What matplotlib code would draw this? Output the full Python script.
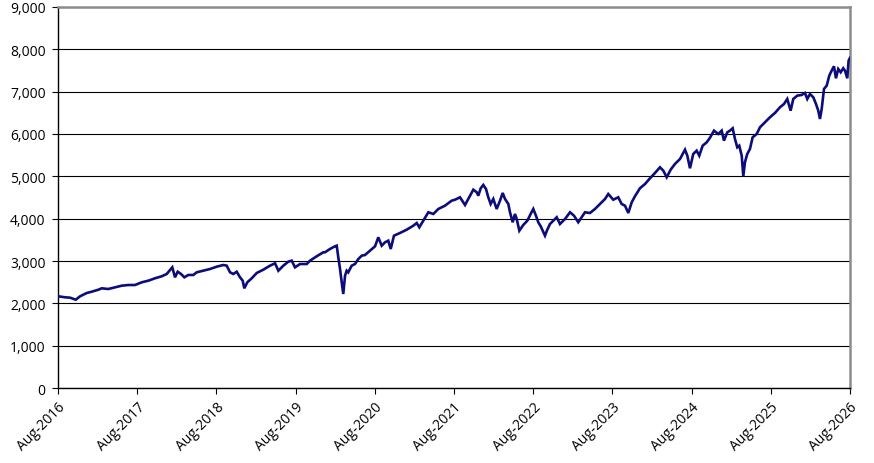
import matplotlib
matplotlib.use("Agg")
import matplotlib.pyplot as plt
from matplotlib.ticker import FuncFormatter

# decimal years (Aug-2016 = 2016.583) and index levels
years = [
    2016.587, 2016.671, 2016.735, 2016.806, 2016.861, 2016.945, 2017.009, 2017.092,
    2017.135, 2017.218, 2017.303, 2017.387, 2017.471, 2017.555, 2017.640, 2017.723,
    2017.808, 2017.892, 2017.955, 2018.026, 2018.060, 2018.094, 2018.136, 2018.178,
    2018.228, 2018.291, 2018.334, 2018.418, 2018.502, 2018.587, 2018.670, 2018.713,
    2018.755, 2018.796, 2018.839, 2018.881, 2018.915, 2018.935, 2018.973, 2019.029,
    2019.092, 2019.175, 2019.260, 2019.323, 2019.365, 2019.428, 2019.491, 2019.534,
    2019.575, 2019.639, 2019.723, 2019.765, 2019.849, 2019.933, 2019.954, 2020.017,
    2020.080, 2020.102, 2020.122, 2020.144, 2020.165, 2020.185, 2020.207, 2020.228,
    2020.248, 2020.291, 2020.333, 2020.375, 2020.418, 2020.459, 2020.522, 2020.586,
    2020.627, 2020.670, 2020.712, 2020.753, 2020.784, 2020.825, 2020.901, 2020.986,
    2021.069, 2021.112, 2021.145, 2021.195, 2021.259, 2021.322, 2021.385, 2021.469,
    2021.554, 2021.596, 2021.659, 2021.722, 2021.785, 2021.827, 2021.870, 2021.890,
    2021.920, 2021.953, 2021.987, 2022.016, 2022.046, 2022.079, 2022.122, 2022.164,
    2022.198, 2022.227, 2022.269, 2022.290, 2022.324, 2022.353, 2022.375, 2022.408,
    2022.458, 2022.509, 2022.551, 2022.584, 2022.618, 2022.647, 2022.678, 2022.732,
    2022.761, 2022.795, 2022.837, 2022.880, 2022.921, 2022.985, 2023.048, 2023.098,
    2023.152, 2023.208, 2023.237, 2023.300, 2023.363, 2023.426, 2023.490, 2023.531,
    2023.594, 2023.657, 2023.700, 2023.742, 2023.784, 2023.827, 2023.868, 2023.931,
    2023.995, 2024.058, 2024.121, 2024.184, 2024.226, 2024.269, 2024.319, 2024.373,
    2024.437, 2024.500, 2024.529, 2024.563, 2024.604, 2024.647, 2024.680, 2024.723,
    2024.774, 2024.815, 2024.866, 2024.920, 2024.963, 2024.992, 2025.034, 2025.068,
    2025.102, 2025.131, 2025.160, 2025.185, 2025.216, 2025.236, 2025.257, 2025.286,
    2025.320, 2025.354, 2025.405, 2025.447, 2025.510, 2025.573, 2025.636, 2025.699,
    2025.750, 2025.791, 2025.834, 2025.867, 2025.918, 2025.973, 2026.015, 2026.044,
    2026.078, 2026.120, 2026.154, 2026.183, 2026.204, 2026.226, 2026.255, 2026.289,
    2026.322, 2026.352, 2026.381, 2026.406, 2026.435, 2026.466, 2026.498, 2026.520,
    2026.549, 2026.566, 2026.583,
]
levels = [
    2166, 2143, 2134, 2086, 2166, 2244, 2275, 2322,
    2355, 2339, 2379, 2417, 2433, 2433, 2497, 2535,
    2592, 2639, 2693, 2851, 2615, 2747, 2693, 2615,
    2670, 2670, 2733, 2771, 2811, 2866, 2906, 2890,
    2733, 2693, 2747, 2615, 2535, 2355, 2497, 2592,
    2717, 2795, 2890, 2946, 2771, 2890, 2984, 3008,
    2851, 2929, 2929, 3008, 3111, 3206, 3206, 3284,
    3347, 3362, 3087, 2811, 2497, 2221, 2653, 2771,
    2733, 2890, 2929, 3047, 3126, 3142, 3244, 3347,
    3560, 3362, 3442, 3480, 3284, 3598, 3662, 3740,
    3834, 3898, 3796, 3952, 4151, 4111, 4229, 4307,
    4425, 4448, 4505, 4323, 4543, 4685, 4623, 4543,
    4718, 4796, 4701, 4505, 4347, 4465, 4229, 4425,
    4607, 4465, 4347, 4151, 3915, 4111, 3993, 3716,
    3851, 3952, 4111, 4229, 4071, 3915, 3820, 3598,
    3740, 3874, 3952, 4033, 3874, 3993, 4151, 4071,
    3915, 4071, 4151, 4134, 4229, 4347, 4465, 4583,
    4448, 4505, 4347, 4307, 4134, 4387, 4529, 4718,
    4819, 4954, 5079, 5214, 5134, 4978, 5158, 5292,
    5410, 5630, 5488, 5190, 5528, 5606, 5488, 5724,
    5804, 5910, 6079, 6000, 6079, 5843, 6040, 6079,
    6135, 5882, 5686, 5724, 5488, 5001, 5332, 5528,
    5646, 5922, 6000, 6159, 6277, 6395, 6497, 6631,
    6709, 6827, 6551, 6827, 6906, 6922, 6969, 6827,
    6945, 6867, 6709, 6551, 6355, 6591, 7064, 7142,
    7379, 7497, 7600, 7316, 7536, 7458, 7552, 7497,
    7316, 7734, 7796,
]

tick_years = [2016.583 + k for k in range(11)]
tick_labels = [f"Aug-{2016 + k}" for k in range(11)]
y_ticks = list(range(0, 9001, 1000))

plt.rcParams["font.family"] = ["Open Sans", "DejaVu Sans"]

fig = plt.figure(figsize=(8.74, 4.64), dpi=100)
ax = fig.add_axes([0.0664, 0.1616, 0.9061, 0.8212])

ax.plot(years, levels, color="#0c0c7a", linewidth=1.9, zorder=3, solid_joinstyle="miter")

ax.set_xlim(tick_years[0], tick_years[-1])
ax.set_ylim(0, 9000)
ax.set_yticks(y_ticks)
ax.yaxis.set_major_formatter(FuncFormatter(lambda v, p: f"{int(v):,}"))
ax.set_xticks(tick_years)
ax.set_xticklabels(tick_labels, rotation=45, ha="right", rotation_mode="anchor")

ax.grid(axis="y", color="black", linewidth=0.8, zorder=1)
ax.tick_params(axis="both", labelsize=10, length=4, width=0.8, color="black")
ax.tick_params(axis="y", pad=5)
ax.tick_params(axis="x", pad=4)

ax.spines["left"].set_linewidth(1.0)
ax.spines["bottom"].set_linewidth(1.0)
for side in ("top", "right"):
    ax.spines[side].set_color("#8c8c8c")
    ax.spines[side].set_linewidth(1.8)

fig.savefig("out.png", dpi=100)
